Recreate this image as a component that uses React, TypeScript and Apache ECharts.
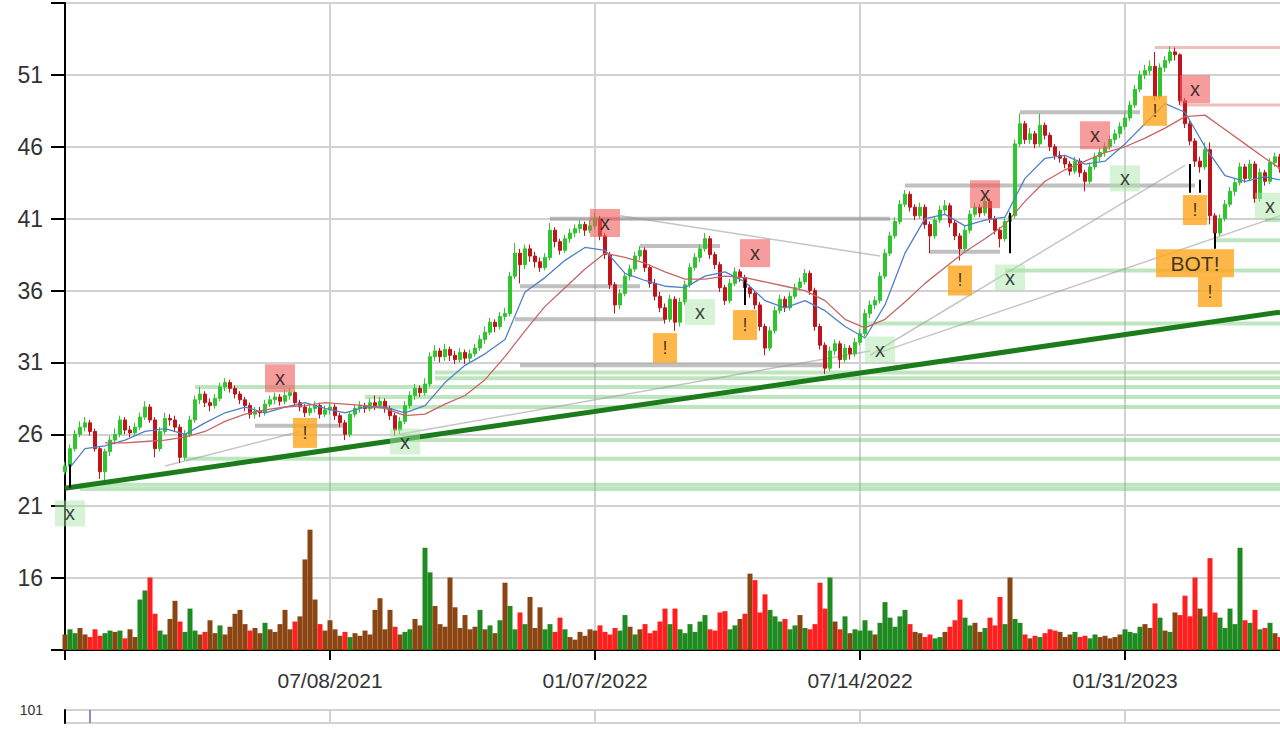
import React, { useEffect, useRef } from "react";
import * as echarts from "echarts";

// [open, close, low, high] per bar
const candles: number[][] = [
  [23.4,23.8,23.2,24.1],[23.8,25.0,23.6,25.3],[25.0,26.0,24.8,26.3],[26.0,26.5,25.8,26.9],[26.5,26.8,26.2,27.2],
  [26.8,26.2,25.9,27.0],[26.2,25.0,24.8,26.4],[25.0,23.4,22.9,25.2],[23.4,24.8,22.8,25.0],[24.8,25.6,24.5,25.9],
  [25.6,26.0,25.3,26.4],[26.0,27.0,25.8,27.3],[27.0,26.3,26.0,27.2],[26.3,26.1,25.8,26.6],[26.1,26.5,25.9,26.8],
  [26.5,27.2,26.3,27.5],[27.2,27.9,27.0,28.3],[27.9,27.0,26.8,28.1],[27.0,25.0,24.4,27.2],[25.0,26.2,24.8,26.5],
  [26.2,27.1,26.0,27.5],[27.1,27.0,26.6,27.4],[27.0,26.5,26.2,27.3],[26.5,24.4,24.0,26.7],[24.4,26.0,24.2,26.3],
  [26.0,27.0,25.8,27.3],[27.0,28.4,26.8,28.7],[28.4,28.8,28.1,29.3],[28.8,28.2,27.9,29.0],[28.2,28.0,27.6,28.5],
  [28.0,28.5,27.8,28.8],[28.5,29.3,28.3,29.6],[29.3,29.6,29.0,29.9],[29.6,29.2,28.9,29.8],[29.2,28.8,28.5,29.4],
  [28.8,28.4,28.1,29.0],[28.4,28.0,27.6,28.6],[28.0,27.4,27.1,28.2],[27.4,27.6,27.1,27.9],[27.6,27.5,27.2,27.9],
  [27.5,28.1,27.3,28.4],[28.1,28.4,27.9,28.7],[28.4,28.6,28.1,28.9],[28.6,28.3,28.0,28.8],[28.3,28.7,28.1,29.1],
  [28.7,28.9,28.4,29.2],[28.9,28.2,28.0,29.0],[28.2,27.9,27.6,28.4],[27.9,27.5,27.2,28.1],[27.5,27.8,27.3,28.1],
  [27.8,28.0,27.5,28.3],[28.0,27.4,27.1,28.2],[27.4,27.7,27.2,28.0],[27.7,27.9,27.4,28.2],[27.9,27.3,27.0,28.1],
  [27.3,26.8,26.5,27.5],[26.8,26.0,25.6,27.0],[26.0,27.4,25.8,27.6],[27.4,27.8,27.2,28.1],[27.8,28.0,27.5,28.3],
  [28.0,27.8,27.5,28.2],[27.8,28.2,27.6,28.5],[28.2,28.0,27.7,28.7],[28.0,28.3,27.8,28.6],[28.3,27.8,27.5,28.5],
  [27.8,27.3,27.0,28.0],[27.3,26.3,25.9,27.5],[26.3,26.9,26.0,27.2],[26.9,28.0,26.7,28.3],[28.0,28.7,27.8,29.0],
  [28.7,29.2,28.4,29.5],[29.2,28.9,28.6,29.4],[28.9,29.5,28.7,29.9],[29.5,31.4,29.3,31.7],[31.4,31.8,31.1,32.2],
  [31.8,31.4,31.0,32.0],[31.4,31.9,31.1,32.3],[31.9,31.5,31.1,32.1],[31.5,31.2,30.9,31.8],[31.2,31.7,31.0,32.0],
  [31.7,31.3,30.9,31.9],[31.3,31.6,31.0,31.9],[31.6,32.0,31.4,32.3],[32.0,32.6,31.8,32.9],[32.6,33.1,32.3,33.5],
  [33.1,33.8,32.9,34.1],[33.8,33.5,33.1,34.0],[33.5,34.2,33.3,34.5],[34.2,34.4,33.9,34.8],[34.4,37.0,34.2,37.3],
  [37.0,38.6,36.8,39.3],[38.6,37.8,36.5,38.9],[37.8,38.9,37.5,39.2],[38.9,38.4,38.0,39.2],[38.4,38.0,37.6,38.7],
  [38.0,37.6,37.3,38.3],[37.6,38.3,37.4,38.6],[38.3,40.2,38.1,40.7],[40.2,39.4,39.0,40.4],[39.4,38.8,38.5,39.6],
  [38.8,39.6,38.6,39.9],[39.6,40.0,39.3,40.3],[40.0,40.3,39.7,40.6],[40.3,40.6,40.0,40.9],[40.6,40.2,39.8,40.8],
  [40.2,40.5,40.0,40.9],[40.5,41.0,40.3,41.4],[41.0,39.8,39.5,41.2],[39.8,38.5,38.2,40.0],[38.5,36.4,36.1,38.7],
  [36.4,35.0,34.4,36.6],[35.0,35.8,34.7,36.1],[35.8,37.0,35.6,37.3],[37.0,37.5,36.7,37.8],[37.5,38.4,37.3,38.7],
  [38.4,38.8,38.1,39.1],[38.8,37.6,37.3,39.0],[37.6,36.5,36.2,37.8],[36.5,35.6,35.3,36.8],[35.6,34.8,34.5,35.9],
  [34.8,34.0,33.7,35.1],[34.0,35.4,33.8,35.7],[35.4,33.8,33.2,35.6],[33.8,35.2,33.5,35.5],[35.2,36.4,35.0,36.7],
  [36.4,37.6,36.2,37.9],[37.6,38.3,37.4,38.6],[38.3,38.9,38.0,39.2],[38.9,39.6,38.7,40.0],[39.6,38.5,38.2,39.8],
  [38.5,37.8,37.5,38.7],[37.8,36.2,35.9,38.0],[36.2,35.3,35.0,36.4],[35.3,36.5,35.1,36.8],[36.5,37.3,36.3,37.6],
  [37.3,36.9,36.6,37.5],[36.9,36.2,35.9,37.1],[36.2,35.8,35.5,36.4],[35.8,35.0,34.7,36.0],[35.0,33.5,33.2,35.2],
  [33.5,32.0,31.5,33.7],[32.0,33.2,31.8,33.5],[33.2,34.6,33.0,34.9],[34.6,35.4,34.4,35.7],[35.4,34.8,34.5,35.6],
  [34.8,35.6,34.6,35.9],[35.6,36.2,35.4,36.5],[36.2,36.6,36.0,36.9],[36.6,37.2,36.4,37.5],[37.2,36.0,35.7,37.4],
  [36.0,33.5,33.2,36.2],[33.5,32.2,31.9,33.7],[32.2,30.6,30.2,32.4],[30.6,31.8,30.4,32.1],[31.8,32.3,31.5,32.6],
  [32.3,31.2,30.6,32.5],[31.2,32.0,31.0,32.3],[32.0,31.6,31.2,32.2],[31.6,32.4,31.4,32.7],[32.4,33.0,32.2,33.3],
  [33.0,34.4,32.8,34.7],[34.4,35.0,34.1,35.3],[35.0,35.3,34.7,35.6],[35.3,37.0,35.1,37.3],[37.0,38.6,36.8,38.9],
  [38.6,39.8,38.4,40.1],[39.8,40.8,39.6,41.1],[40.8,42.0,40.6,42.3],[42.0,42.7,41.8,43.0],[42.7,41.8,41.5,42.9],
  [41.8,41.2,40.9,42.0],[41.2,41.8,41.0,42.1],[41.8,40.6,40.3,42.0],[40.6,39.8,38.6,40.8],[39.8,40.9,39.6,41.2],
  [40.9,41.6,40.7,41.9],[41.6,41.9,41.3,42.3],[41.9,40.7,40.4,42.1],[40.7,39.8,39.5,40.9],[39.8,38.9,38.1,40.0],
  [38.9,40.2,38.7,40.5],[40.2,41.3,40.0,41.6],[41.3,41.8,41.1,42.1],[41.8,41.4,41.1,42.0],[41.4,42.2,41.2,42.6],
  [42.2,41.0,40.7,42.4],[41.0,40.2,39.9,41.2],[40.2,39.6,39.0,40.4],[39.6,40.8,39.4,41.1],[40.8,41.2,40.5,41.5],
  [41.2,46.2,41.0,46.5],[46.2,47.6,46.0,48.3],[47.6,46.5,46.2,47.8],[46.5,46.9,46.2,47.3],[46.9,46.2,45.9,47.1],
  [46.2,47.5,46.0,48.3],[47.5,46.8,46.5,47.7],[46.8,46.0,45.7,47.0],[46.0,45.4,45.1,46.2],[45.4,45.2,44.9,45.7],
  [45.2,44.8,44.5,45.4],[44.8,44.3,44.0,45.0],[44.3,45.0,44.1,45.3],[45.0,44.2,43.9,45.2],[44.2,43.6,42.9,44.4],
  [43.6,44.6,43.4,44.9],[44.6,45.3,44.4,45.6],[45.3,45.6,45.0,45.9],[45.6,46.0,45.3,46.3],[46.0,46.5,45.8,46.8],
  [46.5,46.9,46.2,47.2],[46.9,47.4,46.6,47.7],[47.4,48.0,47.2,48.3],[48.0,48.9,47.8,49.2],[48.9,50.0,48.7,50.3],
  [50.0,51.0,49.8,51.3],[51.0,51.3,50.7,51.7],[51.3,51.6,51.0,52.0],[51.6,49.5,49.2,52.6],[49.5,51.5,49.3,51.8],
  [51.5,52.0,51.2,52.3],[52.0,52.6,51.8,53.0],[52.6,52.4,52.0,52.9],[52.4,49.2,48.9,52.5],[49.2,47.6,47.3,49.4],
  [47.6,46.4,46.1,47.8],[46.4,45.0,44.6,46.6],[45.0,44.6,44.2,45.3],[44.6,45.8,44.4,46.3],[45.8,41.2,40.6,46.3],
  [41.2,40.0,39.5,41.4],[40.0,41.0,39.8,41.3],[41.0,42.0,40.8,42.3],[42.0,42.9,41.8,43.2],[42.9,43.5,42.6,43.8],
  [43.5,44.6,43.3,44.9],[44.6,43.8,43.5,44.8],[43.8,44.8,43.6,45.1],[44.8,42.4,42.1,45.0],[42.4,44.2,42.2,44.5],
  [44.2,43.6,43.3,44.4],[43.6,44.9,43.4,45.2],[44.9,45.3,44.6,45.6],[45.3,44.5,44.2,45.5]
];

// volume (millions)
const volumes: number[] = [
  1.2,1.6,1.3,1.7,1.2,1.0,1.6,1.1,1.3,1.5, 1.4,1.5,0.9,1.6,1.0,3.9,4.6,5.6,2.8,1.5,
  1.2,2.4,3.8,2.2,1.4,3.2,1.5,1.2,1.4,2.3, 1.3,1.9,1.2,1.8,2.8,3.1,2.0,1.5,1.7,1.3,
  2.1,1.6,1.4,2.0,3.1,1.6,2.2,2.6,7.0,9.3, 3.9,2.0,1.5,2.3,1.6,1.1,1.4,1.0,1.3,1.1,
  1.5,1.2,3.1,4.0,1.6,3.1,1.8,1.2,1.4,1.6, 2.4,1.9,7.9,6.0,3.4,2.0,1.8,5.6,3.3,1.7,
  2.7,1.6,1.8,3.1,1.6,1.9,1.3,2.3,5.2,3.4, 1.6,2.9,2.0,4.1,1.7,3.3,1.6,2.0,1.4,2.5,
  1.6,1.0,0.8,1.4,1.1,1.6,1.5,1.9,1.4,1.2, 1.7,1.5,2.7,1.8,1.2,1.6,2.0,1.3,1.5,2.2,
  3.2,2.0,3.2,1.6,1.3,2.0,1.4,2.2,2.7,1.6, 1.5,2.9,3.0,1.6,1.9,2.4,2.8,5.9,5.4,2.9,
  4.3,3.1,2.6,2.2,2.4,1.6,1.9,2.7,1.7,1.6, 2.0,5.2,3.2,5.6,2.2,1.6,2.6,1.3,1.6,1.5,
  2.3,1.5,1.2,2.1,3.7,2.5,1.8,2.6,3.1,2.0, 1.4,1.3,1.0,1.2,0.9,1.0,1.4,1.8,2.3,3.9,
  2.5,1.9,2.1,1.4,1.7,2.5,1.9,4.1,2.0,5.6, 2.4,2.1,1.2,0.9,1.1,1.0,1.3,1.6,1.5,1.4,
  1.0,1.2,1.4,1.0,1.1,0.9,1.2,1.0,1.1,0.9, 1.0,1.2,1.6,1.4,1.3,1.8,2.0,1.7,3.6,2.5,
  1.5,1.4,2.9,2.7,4.2,2.6,5.6,3.2,2.6,7.1, 2.9,2.5,1.7,3.2,2.0,7.9,2.3,2.1,3.1,1.6,
  1.7,2.1,1.3,1.0
];

const tickIndex = [53, 106, 159, 212];
const tickLabels = ["07/08/2021", "01/07/2022", "07/14/2022", "01/31/2023"];

// moving averages as [barIndex, value]
const blueMA: number[][] = [
  [1,23.7],[4,25.0],[8,25.2],[12,25.6],[16,26.2],[20,26.4],[24,26.0],[28,26.8],[32,27.5],[36,27.9],
  [40,27.5],[44,27.9],[48,28.2],[52,27.8],[56,27.5],[60,27.9],[64,27.9],[68,27.5],[72,28.0],[76,29.6],
  [80,30.8],[84,31.6],[88,32.6],[92,35.9],[96,36.9],[100,38.1],[104,39.0],[108,38.8],[112,37.2],[116,36.7],
  [120,36.3],[124,36.2],[128,37.0],[132,37.3],[136,36.6],[140,35.3],[144,34.8],[148,35.3],[152,34.6],[156,33.5],
  [160,32.7],[164,35.0],[168,38.6],[172,41.0],[176,41.3],[180,40.5],[184,40.9],[188,41.1],[192,43.8],[196,45.2],
  [200,45.4],[204,44.8],[208,45.0],[212,46.2],[216,47.6],[220,49.0],[224,48.4],[228,46.0],[232,44.0],[236,43.6],
  [240,43.9],[243,43.7]
];
const redMA: number[][] = [
  [8,25.4],[12,25.4],[16,25.5],[20,25.6],[24,25.8],[28,26.2],[32,26.9],[36,27.4],[40,27.7],[44,27.9],
  [48,28.0],[52,28.2],[56,28.1],[60,28.0],[64,27.8],[68,27.3],[72,27.4],[76,28.1],[80,28.7],[84,29.8],
  [88,31.4],[92,33.2],[96,34.9],[100,36.2],[104,37.5],[108,38.6],[112,38.3],[116,37.9],[120,37.3],[124,36.8],
  [128,36.8],[132,37.0],[136,36.9],[140,36.6],[144,36.3],[148,36.0],[152,35.3],[156,34.0],[160,33.4],[164,34.0],
  [168,35.2],[172,36.5],[176,37.6],[180,38.7],[184,39.6],[188,40.6],[192,42.2],[196,43.6],[200,44.4],[204,45.0],
  [208,45.6],[212,46.0],[216,46.6],[220,47.3],[224,48.1],[228,48.2],[232,47.2],[236,46.2],[240,45.2],[243,44.5]
];

// support / resistance levels: [fromIndex, toIndex, price]
const greenLevels: number[][] = [
  [74,243,30.3],[74,243,29.9],[26,243,29.3],[60,243,28.6],[60,243,27.9],[68,243,25.6],
  [24,243,24.3],[3,243,22.5],[3,243,22.2],[160,243,33.7],[188,243,37.4],[230,243,39.5],[240,243,40.9]
];
const grayLevels: number[][] = [
  [97,165,41.0],[115,131,39.1],[91,115,36.3],[90,120,34.0],[91,153,30.8],
  [168,226,43.3],[173,187,38.7],[191,215,48.4],[38,56,26.6]
];
const pinkLevels: number[][] = [[218,243,52.9],[223,243,48.9]];
// diagonal lines: [i1, p1, i2, p2]
const grayDiagonals: number[][] = [
  [20,23.8,47,26.2],[67,26.0,161,31.8],[111,41.2,163,38.4],[161,31.5,224,44.7],[163,31.7,243,41.2]
];
const trendLine: number[] = [0, 22.25, 243, 34.5];

// signal markers: [barIndex, price]
const sellMarks: number[][] = [[43,29.9],[108,40.7],[138,38.6],[184,42.7],[206,46.8],[226,50.0]];
const buyMarks: number[][] = [[1,20.5],[68,25.5],[127,34.5],[163,31.9],[189,36.9],[212,43.8],[241,41.9]];
const warnMarks: number[][] = [[48,26.1],[120,32.0],[136,33.6],[179,36.7],[218,48.5],[226,41.6],[229,35.9]];
const botMarks: number[][] = [[226,37.9]];
// arrows: [barIndex, basePrice, tipPrice]
const arrows: number[][] = [[1,22.3,23.9],[136,35.0,36.7],[189,38.6,41.4],[225,42.8,44.8],[227,42.8,43.7],[230,38.9,40.0]];
const oscMarkerIndex = 5;

const FONT = "'Liberation Sans', Arial, sans-serif";

export default function App() {
  const ref = useRef<HTMLDivElement>(null);
  useEffect(() => {
    const chart = echarts.init(ref.current!, null, { renderer: "svg" });
    const cats = candles.map((_, i) => String(i));
    const isTick = (i: number) => tickIndex.indexOf(i) >= 0;

    const seg = (pts: any[], color: string, width: number, z: number) => ({
      type: "line", xAxisIndex: 0, yAxisIndex: 0, data: pts, symbol: "none", silent: true, z,
      lineStyle: { color, width }, animation: false,
    });

    const series: any[] = [];
    greenLevels.forEach(([a, b, p]) => series.push(seg([[a, p], [b, p]], "rgba(110,200,110,0.45)", 4, 1)));
    grayLevels.forEach(([a, b, p]) => series.push(seg([[a, p], [b, p]], "rgba(130,130,130,0.5)", 4, 1)));
    pinkLevels.forEach(([a, b, p]) => series.push(seg([[a, p], [b, p]], "rgba(225,110,110,0.45)", 3, 1)));
    grayDiagonals.forEach(([a, p, b, q]) => series.push(seg([[a, p], [b, q]], "rgba(150,150,150,0.55)", 1.5, 1)));

    series.push({
      type: "bar", xAxisIndex: 0, yAxisIndex: 1, barWidth: 5, silent: true, z: 2,
      data: volumes.map((v, i) => {
        const [o, c] = candles[i];
        const color = Math.abs(c - o) < 0.6 ? "#8b4513" : c > o ? "#1f8a1f" : "#ff1f1f";
        return { value: v, itemStyle: { color } };
      }),
    });

    series.push({
      type: "candlestick", xAxisIndex: 0, yAxisIndex: 0, data: candles, barWidth: 3, z: 3,
      itemStyle: { color: "#2ec52e", color0: "#c0141a", borderColor: "#2ec52e", borderColor0: "#c0141a", borderWidth: 1 },
    });

    series.push({ ...seg(blueMA, "#4f7fc4", 1.3, 4), connectNulls: true });
    series.push({ ...seg(redMA, "#c86464", 1.3, 4), connectNulls: true });
    series.push(seg([[trendLine[0], trendLine[1]], [trendLine[2], trendLine[3]]], "#1c7c1c", 5, 5));

    arrows.forEach(([i, b, t]) => {
      series.push({
        type: "line", xAxisIndex: 0, yAxisIndex: 0, silent: true, z: 6, showSymbol: true,
        lineStyle: { color: "#000", width: 2 }, itemStyle: { color: "#000" },
        data: [{ value: [i, b], symbol: "none" }, { value: [i, t], symbol: "triangle", symbolSize: [9, 12] }],
      });
    });

    const marker = (data: number[][], color: string, size: number[], text: string, fs: number) => ({
      type: "scatter", xAxisIndex: 0, yAxisIndex: 0, data, symbol: "rect", symbolSize: size, z: 7, silent: true,
      itemStyle: { color },
      label: { show: true, position: "inside", formatter: text, color: "#111", fontSize: fs, fontFamily: FONT },
    });
    series.push(marker(buyMarks, "rgba(170,230,170,0.6)", [30, 26], "x", 20));
    series.push(marker(sellMarks, "rgba(240,90,90,0.75)", [30, 28], "x", 20));
    series.push(marker(warnMarks, "#ffa51c", [24, 30], "!", 18));
    series.push(marker(botMarks, "#ffa51c", [78, 28], "BOT!", 21));

    series.push({
      type: "line", xAxisIndex: 1, yAxisIndex: 2, symbol: "none", silent: true,
      data: [[oscMarkerIndex, 101], [oscMarkerIndex, 99]], lineStyle: { color: "#6a6ab8", width: 1.5 },
    });

    const option: any = {
      animation: false,
      backgroundColor: "#ffffff",
      textStyle: { fontFamily: FONT },
      grid: [
        { left: 65, right: 0, top: 3, height: 647 },
        { left: 65, right: 0, top: 710, height: 20 },
      ],
      xAxis: [
        {
          type: "category", gridIndex: 0, data: cats, boundaryGap: false,
          axisLine: { lineStyle: { color: "#000", width: 2 } },
          axisTick: { show: true, interval: (i: number) => i === 0 || isTick(i), length: 10, lineStyle: { color: "#000", width: 2 } },
          axisLabel: {
            interval: (i: number) => isTick(i),
            formatter: (v: string) => { const k = tickIndex.indexOf(Number(v)); return k >= 0 ? tickLabels[k] : ""; },
            fontSize: 21, color: "#333", margin: 20, fontFamily: FONT,
          },
          splitLine: { show: true, interval: (i: number) => isTick(i), lineStyle: { color: "#d2d2d2", width: 2 } },
        },
        {
          type: "category", gridIndex: 1, data: cats, boundaryGap: false,
          axisLine: { show: false }, axisTick: { show: false }, axisLabel: { show: false },
          splitLine: { show: true, interval: (i: number) => isTick(i), lineStyle: { color: "#d2d2d2", width: 2 } },
        },
      ],
      yAxis: [
        {
          type: "value", gridIndex: 0, min: 11, max: 56, interval: 5,
          axisLine: { show: true, lineStyle: { color: "#000", width: 2 } },
          axisTick: { show: true, length: 14, lineStyle: { color: "#000", width: 2 } },
          axisLabel: {
            formatter: (v: number) => (v === 11 || v === 56 ? "" : String(v)),
            fontSize: 23, color: "#333", margin: 22, fontFamily: FONT,
          },
          splitLine: { show: true, lineStyle: { color: "#d2d2d2", width: 2 } },
        },
        { type: "value", gridIndex: 0, min: 0, max: 50, show: false, splitLine: { show: false } },
        {
          type: "value", gridIndex: 1, min: 99, max: 101, interval: 2,
          axisLine: { show: true, lineStyle: { color: "#000", width: 2 } },
          axisTick: { show: false },
          axisLabel: { fontSize: 14, color: "#333", margin: 22, fontFamily: FONT },
          splitLine: { show: true, lineStyle: { color: "#d2d2d2", width: 2 } },
        },
      ],
      series,
    };
    chart.setOption(option);
    return () => chart.dispose();
  }, []);
  return <div ref={ref} style={{ position: "absolute", left: 0, top: 0, width: 1280, height: 730 }} />;
}
